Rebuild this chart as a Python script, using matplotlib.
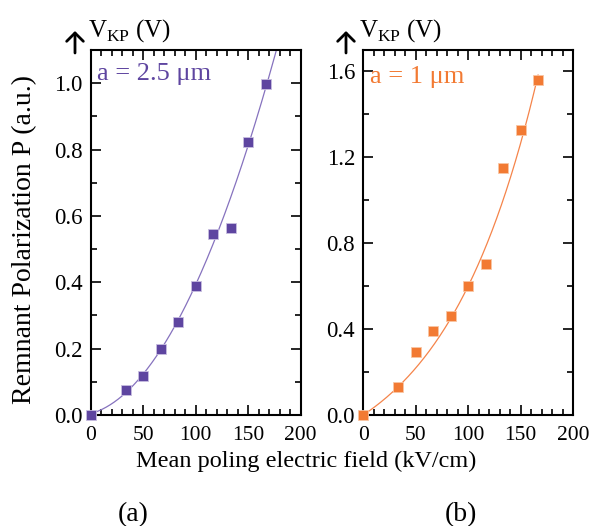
import numpy as np
import matplotlib
matplotlib.use("Agg")
import matplotlib.pyplot as plt
from matplotlib.ticker import MultipleLocator, FormatStrFormatter
from matplotlib.patches import FancyArrowPatch

plt.rcParams["font.family"] = ["Liberation Serif", "DejaVu Serif"]
plt.rcParams["mathtext.fontset"] = "custom"
plt.rcParams["mathtext.rm"] = "Liberation Serif"

# Mean poling field (kV/cm) and remnant polarization (a.u.)
field_a = [0, 33.3, 50, 66.7, 83.3, 100, 116.7, 133.3, 150, 166.7]
pol_a = [0.0, 0.075, 0.118, 0.198, 0.279, 0.389, 0.546, 0.565, 0.823, 0.998]
field_b = [0, 33.3, 50, 66.7, 83.3, 100, 116.7, 133.3, 150, 166.7]
pol_b = [0.0, 0.129, 0.294, 0.392, 0.462, 0.601, 0.701, 1.150, 1.328, 1.562]

# Fit parameters: quadratic for (a), exponential growth for (b)
fit_a = [3.0e-5, 8.9e-4, 0.004]     # c2, c1, c0
fit_b = [0.2946, 90.0]              # amplitude, scale (kV/cm)

purple = "#5E45A0"
purple_line = "#8672BE"
orange = "#F27A33"
orange_line = "#F5844A"

W, H = 592, 526
fig = plt.figure(figsize=(W / 100, H / 100), dpi=100)
ax_a = fig.add_axes([90.7 / W, 1 - 415 / H, 210 / W, 365 / H])
ax_b = fig.add_axes([363.3 / W, 1 - 415 / H, 209.7 / W, 365 / H])

xa = np.linspace(0, 185, 300)
ax_a.plot(xa, np.polyval(fit_a, xa), color=purple_line, lw=0.9, zorder=2)
ax_a.plot(field_a, pol_a, ls="none", marker="s", ms=7.5, color=purple,
          mec="#C8BEE0", mew=0.6, zorder=3, clip_on=False)

xb = np.linspace(0, 166.7, 300)
ax_b.plot(xb, fit_b[0] * (np.exp(xb / fit_b[1]) - 1), color=orange_line, lw=0.9, zorder=2)
ax_b.plot(field_b, pol_b, ls="none", marker="s", ms=7.5, color=orange,
          mec="#F9C6A4", mew=0.6, zorder=3, clip_on=False)

ax_a.set_xlim(0, 200)
ax_a.set_ylim(0, 1.1)
ax_a.yaxis.set_major_locator(MultipleLocator(0.2))
ax_a.yaxis.set_minor_locator(MultipleLocator(0.1))
ax_b.set_xlim(0, 200)
ax_b.set_ylim(0, 1.7)
ax_b.yaxis.set_major_locator(MultipleLocator(0.4))
ax_b.yaxis.set_minor_locator(MultipleLocator(0.2))

for ax in (ax_a, ax_b):
    ax.xaxis.set_major_locator(MultipleLocator(50))
    ax.xaxis.set_minor_locator(MultipleLocator(10))
    ax.yaxis.set_major_formatter(FormatStrFormatter("%.1f"))
    ax.tick_params(which="both", direction="in", top=True, right=True,
                   width=1.2)
    ax.tick_params(axis="y", labelsize=16.5, pad=6)
    ax.tick_params(axis="x", labelsize=15.5, pad=8)
    ax.tick_params(which="major", length=7)
    ax.tick_params(which="minor", length=4.5)
    for s in ax.spines.values():
        s.set_linewidth(1.5)

ax_a.text(0.03, (415 - 80) / 365, "a = 2.5 μm", transform=ax_a.transAxes,
          color=purple, fontsize=19, va="baseline", ha="left")
ax_b.text(0.03, (415 - 83) / 365, "a = 1 μm", transform=ax_b.transAxes,
          color=orange, fontsize=19, va="baseline", ha="left")

fig.text(25 / W, 1 - 240 / H, "Remnant Polarization P (a.u.)", fontsize=20,
         rotation=90, ha="center", va="center")
fig.text(306 / W, 1 - 467 / H, "Mean poling electric field (kV/cm)",
         fontsize=17.5, ha="center", va="baseline")

# Vertical-axis quantity with an upward arrow above each panel
for x0 in (75, 346):
    fig.patches.append(FancyArrowPatch(
        (x0 / W, 1 - 53 / H), (x0 / W, 1 - 31 / H),
        transform=fig.transFigure, arrowstyle="->,head_width=6,head_length=6",
        mutation_scale=1, lw=2.0, color="black", shrinkA=0, shrinkB=0))
    fig.text((x0 + 13) / W, 1 - 37 / H, r"V$_{\mathrm{KP}}$ (V)",
             fontsize=18, ha="left", va="baseline")

fig.text(133 / W, 1 - 515 / H, "(a)", fontsize=20, ha="center", va="center")
fig.text(461 / W, 1 - 515 / H, "(b)", fontsize=20, ha="center", va="center")

fig.savefig("out.png", dpi=100)
